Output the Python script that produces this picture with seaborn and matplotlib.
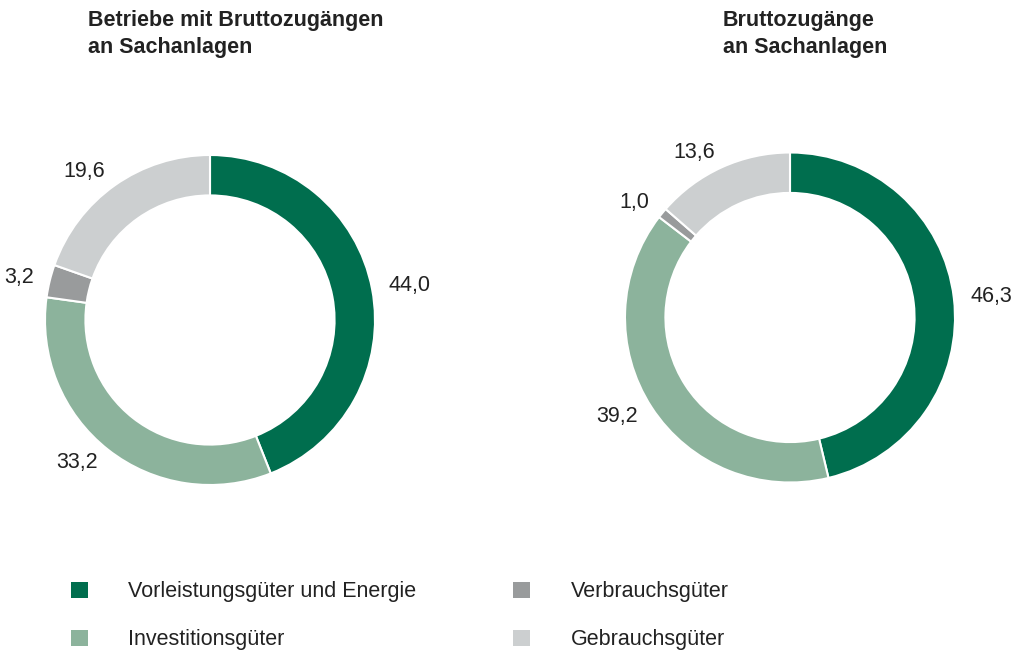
import matplotlib
matplotlib.use("Agg")
import matplotlib.pyplot as plt
import matplotlib.patches as mpatches
import seaborn as sns

# data
kategorien = ["Vorleistungsgüter und Energie", "Investitionsgüter",
              "Verbrauchsgüter", "Gebrauchsgüter"]
betriebe = [44.0, 33.2, 3.2, 19.6]
zugaenge = [46.3, 39.2, 1.0, 13.6]
titel_links = "Betriebe mit Bruttozugängen\nan Sachanlagen"
titel_rechts = "Bruttozugänge\nan Sachanlagen"

farben = ["#006E4E", "#8CB39C", "#999B9C", "#CCCFD0"]

sns.set_theme(style="white")
plt.rcParams["font.family"] = ["Liberation Sans", "DejaVu Sans"]

fig = plt.figure(figsize=(10.24, 6.53), dpi=100)
W, H = 1024, 653


def donut(cx, cy, r, werte):
    ax = fig.add_axes([(cx - r) / W, (H - cy - r) / H, 2 * r / W, 2 * r / H])
    labels = [f"{v:.1f}".replace(".", ",") for v in werte]
    wedges, texts = ax.pie(
        werte, colors=farben, startangle=90, counterclock=False,
        labels=labels, labeldistance=1.1,
        wedgeprops=dict(width=0.245, edgecolor="white", linewidth=1.5),
        textprops=dict(fontsize=15.5, color="#222222"),
    )
    ax.set_xlim(-1, 1)
    ax.set_ylim(-1, 1)
    ax.set_aspect("equal")
    ax.axis("off")
    return ax


donut(210, 320, 165, betriebe)
donut(790, 317.5, 165, zugaenge)

fig.text(88 / W, 1 - 10 / H, titel_links, ha="left", va="top",
         fontsize=15.5, fontweight="bold", color="#222222", linespacing=1.4)
fig.text(723 / W, 1 - 10 / H, titel_rechts, ha="left", va="top",
         fontsize=15.5, fontweight="bold", color="#222222", linespacing=1.4)

handles = [mpatches.Patch(facecolor=c, edgecolor="none", label=k)
           for c, k in zip(farben, kategorien)]
fig.legend(handles=handles, ncol=2, loc="upper left",
           bbox_to_anchor=(52 / W, 1 - 562 / H), frameon=False,
           fontsize=15.5, handlelength=0.75, handleheight=0.75,
           handletextpad=1.9, columnspacing=4.5, labelspacing=1.25,
           labelcolor="#222222")

fig.savefig("out.png", dpi=100, facecolor="white")
